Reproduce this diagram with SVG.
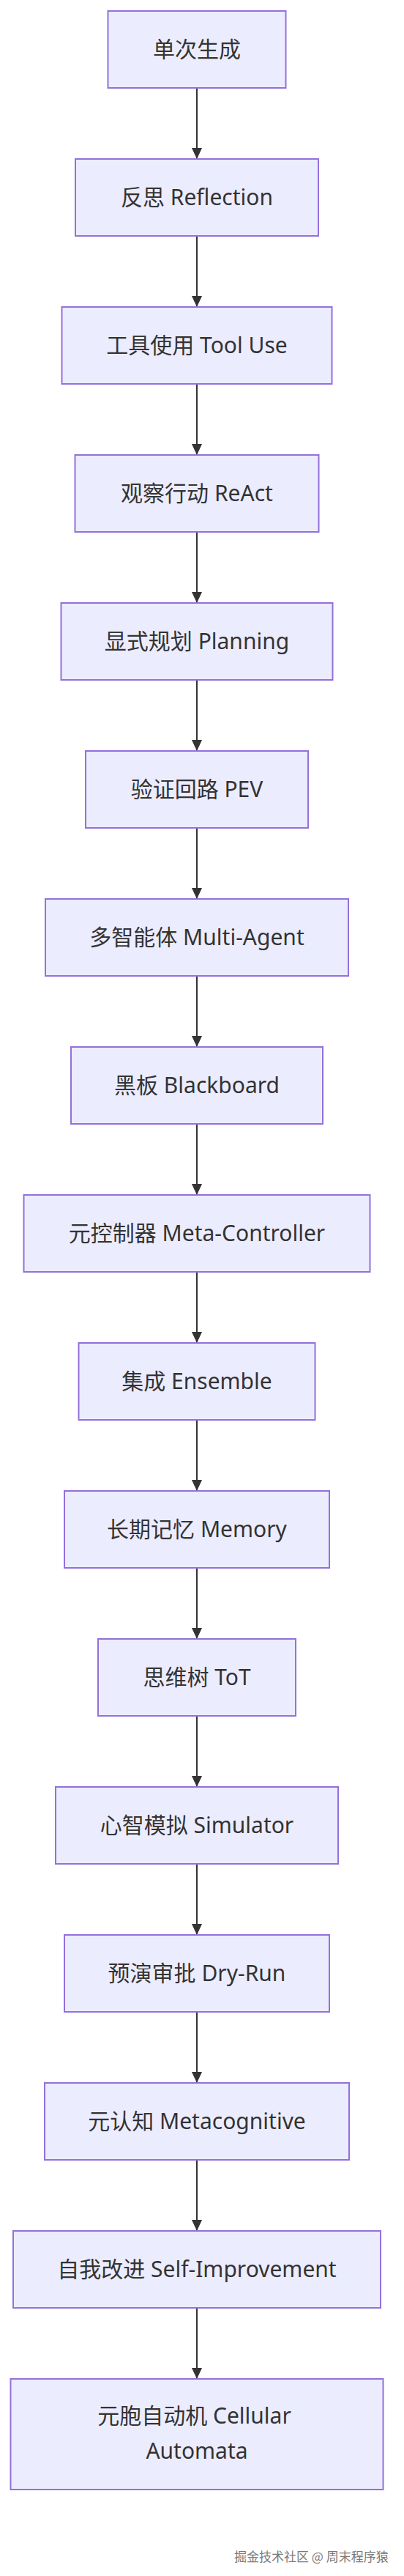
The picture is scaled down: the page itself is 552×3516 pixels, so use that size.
<svg xmlns="http://www.w3.org/2000/svg" width="552" height="3516" viewBox="0 0 552 3516">
<style>
.node rect{fill:#ECECFF;stroke:#9370DB;stroke-width:2}
.node text{font-family:"Noto Sans","Noto Sans CJK SC",sans-serif;font-size:30px;fill:#333;text-anchor:middle}
.edge{stroke:#333;stroke-width:2;fill:none;marker-end:url(#arrow)}
.wm{font-family:"Noto Sans CJK SC","Noto Sans",sans-serif;font-size:17px;fill:#7a7a7a}
</style>
<defs>
<marker id="arrow" markerUnits="userSpaceOnUse" markerWidth="15" markerHeight="14" viewBox="0 0 15 14" refX="15" refY="7" orient="auto">
<path d="M0,0 L15,7 L0,14 z" fill="#333"/>
</marker>
</defs>
<rect width="552" height="3516" fill="#ffffff"/>
<g id="edges">
<line class="edge" x1="269" y1="120" x2="269" y2="217"/>
<line class="edge" x1="269" y1="322" x2="269" y2="419"/>
<line class="edge" x1="269" y1="524" x2="269" y2="621"/>
<line class="edge" x1="269" y1="726" x2="269" y2="823"/>
<line class="edge" x1="269" y1="928" x2="269" y2="1025"/>
<line class="edge" x1="269" y1="1130" x2="269" y2="1227"/>
<line class="edge" x1="269" y1="1332" x2="269" y2="1429"/>
<line class="edge" x1="269" y1="1534" x2="269" y2="1631"/>
<line class="edge" x1="269" y1="1736" x2="269" y2="1833"/>
<line class="edge" x1="269" y1="1938" x2="269" y2="2035"/>
<line class="edge" x1="269" y1="2140" x2="269" y2="2237"/>
<line class="edge" x1="269" y1="2342" x2="269" y2="2439"/>
<line class="edge" x1="269" y1="2544" x2="269" y2="2641"/>
<line class="edge" x1="269" y1="2746" x2="269" y2="2843"/>
<line class="edge" x1="269" y1="2948" x2="269" y2="3045"/>
<line class="edge" x1="269" y1="3150" x2="269" y2="3247"/>
</g>
<g id="n1" class="node"><rect x="147.5" y="15" width="243" height="105"/><text x="269" y="78">单次生成</text></g>
<g id="n2" class="node"><rect x="103" y="217" width="332" height="105"/><text x="269" y="280">反思 Reflection</text></g>
<g id="n3" class="node"><rect x="84.5" y="419" width="369" height="105"/><text x="269" y="482">工具使用 Tool Use</text></g>
<g id="n4" class="node"><rect x="102.5" y="621" width="333" height="105"/><text x="269" y="684">观察行动 ReAct</text></g>
<g id="n5" class="node"><rect x="83.5" y="823" width="371" height="105"/><text x="269" y="886">显式规划 Planning</text></g>
<g id="n6" class="node"><rect x="117" y="1025" width="304" height="105"/><text x="269" y="1088">验证回路 PEV</text></g>
<g id="n7" class="node"><rect x="62" y="1227" width="414" height="105"/><text x="269" y="1290">多智能体 Multi-Agent</text></g>
<g id="n8" class="node"><rect x="97" y="1429" width="344" height="105"/><text x="269" y="1492">黑板 Blackboard</text></g>
<g id="n9" class="node"><rect x="32.5" y="1631" width="473" height="105"/><text x="269" y="1694">元控制器 Meta-Controller</text></g>
<g id="n10" class="node"><rect x="107.5" y="1833" width="323" height="105"/><text x="269" y="1896">集成 Ensemble</text></g>
<g id="n11" class="node"><rect x="88" y="2035" width="362" height="105"/><text x="269" y="2098">长期记忆 Memory</text></g>
<g id="n12" class="node"><rect x="134" y="2237" width="270" height="105"/><text x="269" y="2300">思维树 ToT</text></g>
<g id="n13" class="node"><rect x="76" y="2439" width="386" height="105"/><text x="269" y="2502">心智模拟 Simulator</text></g>
<g id="n14" class="node"><rect x="88" y="2641" width="362" height="105"/><text x="269" y="2704">预演审批 Dry-Run</text></g>
<g id="n15" class="node"><rect x="61" y="2843" width="416" height="105"/><text x="269" y="2906">元认知 Metacognitive</text></g>
<g id="n16" class="node"><rect x="18" y="3045" width="502" height="105"/><text x="269" y="3108">自我改进 Self-Improvement</text></g>
<g id="n17" class="node"><rect x="14.5" y="3247" width="509" height="151"/><text><tspan x="265.5" y="3308">元胞自动机 Cellular</tspan><tspan x="269" y="3356">Automata</tspan></text></g>
<text class="wm" x="320" y="3496">掘金技术社区 @ 周末程序猿</text>
</svg>
